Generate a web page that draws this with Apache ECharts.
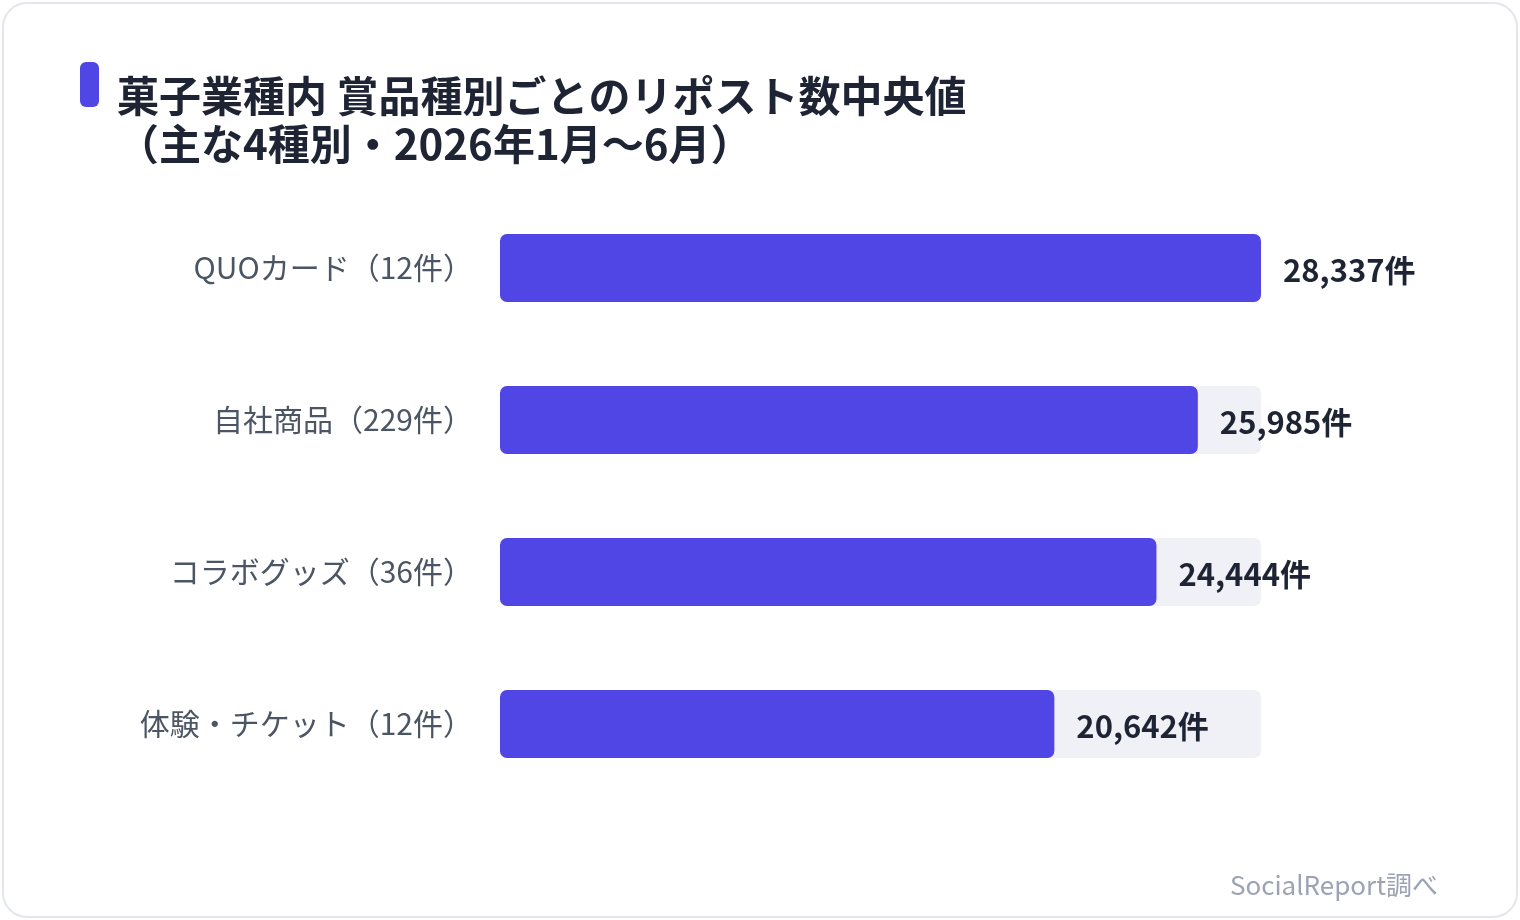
<!DOCTYPE html>
<html><head><meta charset="utf-8">
<script src="https://cdn.jsdelivr.net/npm/echarts@6/dist/echarts.min.js"></script>
<style>html,body{margin:0;padding:0;background:#fff}#c{width:1520px;height:920px}</style>
</head><body><div id="c"></div>
<script>
const categories = ['QUOカード', '自社商品', 'コラボグッズ', '体験・チケット'];
const postCounts = [12, 229, 36, 12];
const medianReposts = [28337, 25985, 24444, 20642];
const titleText = '菓子業種内 賞品種別ごとのリポスト数中央値\n（主な4種別・2026年1月〜6月）';
const sourceText = 'SocialReport調べ';

const FONT = '"Noto Sans CJK JP", "Noto Sans", sans-serif';
const maxVal = Math.max(...medianReposts);
const labels = categories.map((c, i) => c + '（' + postCounts[i] + '件）');
const chart = echarts.init(document.getElementById('c'), null, {renderer: 'canvas'});
chart.setOption({
  backgroundColor: '#ffffff',
  animation: false,
  textStyle: {fontFamily: FONT},
  title: {
    text: titleText,
    left: 112, top: 67,
    textStyle: {fontFamily: FONT, fontSize: 42, fontWeight: 'bold', color: '#1e2433', lineHeight: 48}
  },
  graphic: [
    {type: 'rect', shape: {x: 3, y: 3, width: 1514, height: 914, r: 24}, style: {fill: 'none', stroke: '#e3e6ee', lineWidth: 2}, z: -1},
    {type: 'rect', shape: {x: 80, y: 62, width: 19, height: 45, r: 6}, style: {fill: '#4f46e5'}},
    {type: 'text', x: 1438, y: 885, style: {text: sourceText, font: '26px ' + FONT, fill: '#9ca3b4', align: 'right', verticalAlign: 'middle'}}
  ],
  grid: {left: 500, right: 259, top: 192, bottom: 120, containLabel: false},
  xAxis: {type: 'value', min: 0, max: maxVal, show: false},
  yAxis: {
    type: 'category', inverse: true, data: labels,
    axisLine: {show: false}, axisTick: {show: false}, splitLine: {show: false},
    axisLabel: {margin: 27, fontSize: 30, color: '#4b5563', fontFamily: FONT, padding: [4, 0, 0, 0]}
  },
  series: [
    {
      type: 'bar', barWidth: 68, silent: true,
      data: medianReposts.map(() => maxVal),
      itemStyle: {color: '#f0f1f7', borderRadius: 7},
      z: 1
    },
    {
      type: 'bar', barWidth: 68, barGap: '-100%',
      data: medianReposts,
      itemStyle: {color: '#4f46e5', borderRadius: 7},
      label: {
        show: true, position: 'right', distance: 22, offset: [0, 2],
        formatter: p => p.value.toLocaleString('en-US') + '件',
        fontSize: 31, fontWeight: 'bold', color: '#1e2433', fontFamily: FONT
      },
      z: 2
    }
  ]
});
</script></body></html>
